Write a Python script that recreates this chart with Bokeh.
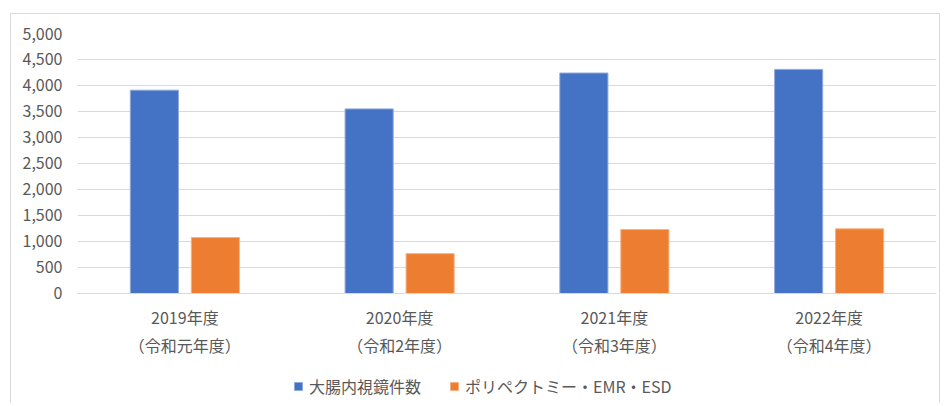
from bokeh.plotting import figure
from bokeh.models import (FactorRange, Range1d, CategoricalAxis, Legend, LegendItem,
                          NumeralTickFormatter, FixedTicker, ColumnDataSource)
from bokeh.transform import dodge
from bokeh.embed import file_html
from bokeh.resources import INLINE

years = ["2019年度", "2020年度", "2021年度", "2022年度"]
reiwa = ["（令和元年度）", "（令和2年度）", "（令和3年度）", "（令和4年度）"]
colonoscopy = [3910, 3550, 4240, 4310]
polypectomy = [1075, 766, 1230, 1243]
series_names = ["大腸内視鏡件数", "ポリペクトミー・EMR・ESD"]
y_ticks = [0, 500, 1000, 1500, 2000, 2500, 3000, 3500, 4000, 4500, 5000]

FONT = "Noto Sans CJK JP"
TXT = "#595959"

src = ColumnDataSource(data=dict(x=years, c=colonoscopy, pp=polypectomy))

# frame extends below zero so the axis labels and legend live inside it
p = figure(x_range=FactorRange(factors=years), y_range=Range1d(-2135, 5000),
           width=930, height=390, output_backend="svg", toolbar_location=None,
           min_border_left=66, min_border_right=5, min_border_top=19,
           min_border_bottom=0, outline_line_color=None,
           styles={"margin-left": "10px", "margin-top": "13px",
                   "border-left": "1px solid #D9D9D9",
                   "border-top": "1px solid #D9D9D9",
                   "border-right": "1px solid #D9D9D9"})
p.extra_x_ranges = {"reiwa": FactorRange(factors=reiwa)}

r1 = p.vbar(x=dodge('x', -0.142, range=p.x_range), top='c', width=0.224, source=src,
            fill_color="#4472C4", line_color="#8FAADC", line_width=1)
r2 = p.vbar(x=dodge('x', 0.142, range=p.x_range), top='pp', width=0.224, source=src,
            fill_color="#ED7D31", line_color="#F4B183", line_width=1)

p.xgrid.grid_line_color = None
p.ygrid.ticker = FixedTicker(ticks=y_ticks)
p.ygrid.grid_line_color = "#D9D9D9"
p.ygrid.grid_line_width = 1

p.yaxis.ticker = FixedTicker(ticks=y_ticks)
p.yaxis.formatter = NumeralTickFormatter(format="0,0")
p.yaxis.axis_line_color = None
p.yaxis.major_tick_line_color = None
p.yaxis.major_tick_out = 0
p.yaxis.minor_tick_line_color = None
p.yaxis.minor_tick_out = 0
p.yaxis.major_label_standoff = 15
p.yaxis.major_label_text_font = FONT
p.yaxis.major_label_text_font_size = "16px"
p.yaxis.major_label_text_color = TXT

xa = p.xaxis[0]
xa.fixed_location = 0
xa.axis_line_color = "#D9D9D9"
xa.major_tick_line_color = None
xa.major_tick_out = 0
xa.minor_tick_line_color = None
xa.major_label_standoff = 12
xa.major_label_text_font = FONT
xa.major_label_text_font_size = "16px"
xa.major_label_text_color = TXT

xa2 = CategoricalAxis(x_range_name="reiwa", fixed_location=0)
xa2.axis_line_color = None
xa2.major_tick_line_color = None
xa2.major_tick_out = 0
xa2.minor_tick_line_color = None
xa2.major_label_standoff = 40
xa2.major_label_text_font = FONT
xa2.major_label_text_font_size = "16px"
xa2.major_label_text_color = TXT
p.add_layout(xa2, "below")

legend = Legend(items=[LegendItem(label=series_names[0], renderers=[r1]),
                       LegendItem(label=series_names[1], renderers=[r2])],
                orientation="horizontal", location=(216, 6),
                glyph_width=10, glyph_height=10, label_standoff=6, spacing=28,
                padding=0, margin=0, border_line_color=None,
                background_fill_alpha=0,
                label_text_font=FONT, label_text_font_size="16px",
                label_text_color=TXT)
p.add_layout(legend, "center")

open("out.html", "w").write(file_html(p, INLINE))
